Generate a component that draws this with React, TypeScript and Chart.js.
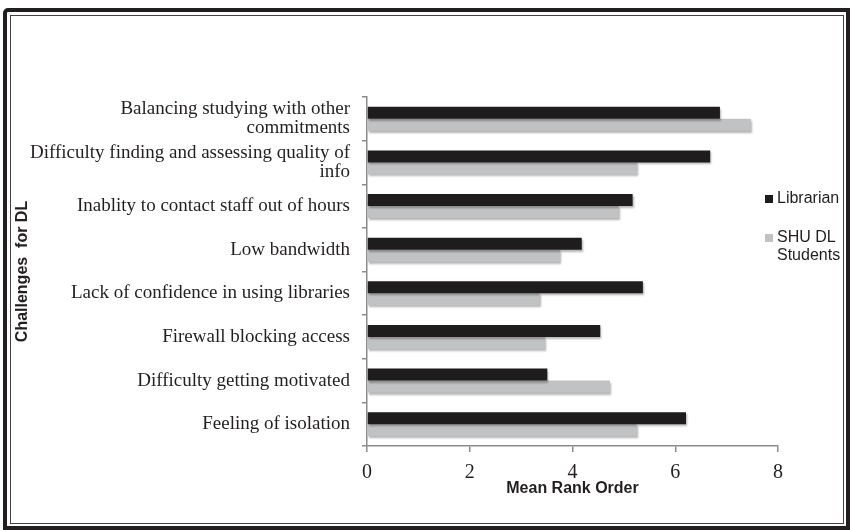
import React, { useEffect, useRef } from "react";
import { Chart, registerables } from "chart.js";

Chart.register(...registerables);

const categories: (string | string[])[] = [
  ["Balancing studying with other", "commitments"],
  ["Difficulty finding and assessing quality of", "info"],
  "Inablity to contact staff out of hours",
  "Low bandwidth",
  "Lack of confidence in using libraries",
  "Firewall blocking access",
  "Difficulty getting motivated",
  "Feeling of isolation",
];
const librarian = [6.87, 6.68, 5.17, 4.18, 5.37, 4.54, 3.51, 6.21];
const students = [7.47, 5.26, 4.9, 3.76, 3.36, 3.47, 4.73, 5.25];
const seriesNames = ["Librarian", "SHU DL Students"];
const legendLines: string[][] = [["Librarian"], ["SHU DL", "Students"]];
const xTicks = [0, 2, 4, 6, 8];
const xTitle = "Mean Rank Order";
const yTitle = "Challenges  for DL";

const SERIF = '"Liberation Serif", "DejaVu Serif", serif';
const SANS = '"Liberation Sans", Arial, sans-serif';
const INK = "#231f20";
const AXIS = "#8c8c8c";

const shadowPlugin = {
  id: "barShadow",
  beforeDatasetsDraw(chart: any) {
    const ctx = chart.ctx;
    ctx.save();
    ctx.shadowColor = "rgba(0,0,0,0.3)";
    ctx.shadowOffsetX = 1;
    ctx.shadowOffsetY = 2;
    ctx.shadowBlur = 2;
  },
  afterDatasetsDraw(chart: any) {
    chart.ctx.restore();
  },
};

const sideLegend = {
  id: "sideLegend",
  afterDraw(chart: any) {
    const ctx = chart.ctx;
    ctx.save();
    ctx.font = "16px " + SANS;
    ctx.textBaseline = "middle";
    ctx.textAlign = "left";
    const x = 765;
    const ys = [199, 238];
    chart.data.datasets.forEach((ds: any, i: number) => {
      const y = ys[i];
      ctx.fillStyle = ds.backgroundColor;
      ctx.fillRect(x, y - 4, 8, 8);
      ctx.fillStyle = INK;
      legendLines[i].forEach((line, j) => {
        ctx.fillText(line, x + 12, y + j * 18);
      });
    });
    ctx.restore();
  },
};

export default function App() {
  const ref = useRef<HTMLCanvasElement | null>(null);

  useEffect(() => {
    document.body.style.margin = "0";
    if (!ref.current) return;
    const chart = new Chart(ref.current, {
      type: "bar",
      data: {
        labels: categories as any,
        datasets: [
          {
            label: seriesNames[0],
            data: librarian,
            backgroundColor: "#1f1c1d",
            borderWidth: 0,
            categoryPercentage: 0.55,
            barPercentage: 1,
          },
          {
            label: seriesNames[1],
            data: students,
            backgroundColor: "#c1c2c4",
            borderWidth: 0,
            categoryPercentage: 0.55,
            barPercentage: 1,
          },
        ],
      },
      options: {
        indexAxis: "y",
        responsive: false,
        animation: false,
        layout: { padding: { top: 97, right: 72, bottom: 0, left: 0 } },
        plugins: {
          legend: { display: false },
          tooltip: { enabled: false },
          title: { display: false },
        },
        scales: {
          x: {
            min: 0,
            max: 8,
            afterBuildTicks: (s: any) => {
              s.ticks = xTicks.map((v) => ({ value: v }));
            },
            afterFit: (s: any) => {
              s.height = 84;
            },
            ticks: {
              font: { family: SERIF, size: 20 },
              color: INK,
              padding: 9,
              maxRotation: 0,
            },
            grid: {
              drawOnChartArea: false,
              drawTicks: true,
              tickLength: 6,
              color: AXIS,
              lineWidth: 1.5,
            },
            border: { display: true, color: AXIS, width: 1.5 },
            title: {
              display: true,
              text: xTitle,
              color: INK,
              font: { family: SANS, size: 16, weight: "bold" },
              padding: { top: 0, bottom: 32 },
            },
          },
          y: {
            afterFit: (s: any) => {
              s.width = 367;
            },
            ticks: {
              font: { family: SERIF, size: 19, lineHeight: 1.0 },
              color: INK,
              padding: 12,
            },
            grid: {
              drawOnChartArea: false,
              drawTicks: true,
              tickLength: 5,
              color: AXIS,
              lineWidth: 1.5,
              offset: true,
            },
            border: { display: true, color: AXIS, width: 1.5 },
            title: {
              display: true,
              text: yTitle,
              color: INK,
              font: { family: SANS, size: 16, weight: "bold" },
              padding: { top: 13, bottom: 0 },
            },
          },
        },
      },
      plugins: [shadowPlugin, sideLegend],
    });
    return () => chart.destroy();
  }, []);

  return (
    <div
      style={{
        position: "fixed",
        left: 0,
        top: 0,
        width: 850,
        height: 530,
        background: "#fff",
        overflow: "hidden",
      }}
    >
      <canvas
        ref={ref}
        width={850}
        height={530}
        style={{ position: "absolute", left: 0, top: 0, width: 850, height: 530 }}
      />
      <div
        style={{
          position: "absolute",
          left: 3,
          top: 8,
          width: 847,
          height: 522,
          boxSizing: "border-box",
          border: "4px solid " + INK,
          borderTopLeftRadius: 5,
          pointerEvents: "none",
        }}
      />
      <div
        style={{
          position: "absolute",
          left: 10,
          top: 15,
          width: 834,
          height: 509,
          boxSizing: "border-box",
          border: "1.5px solid #444",
          pointerEvents: "none",
        }}
      />
    </div>
  );
}
